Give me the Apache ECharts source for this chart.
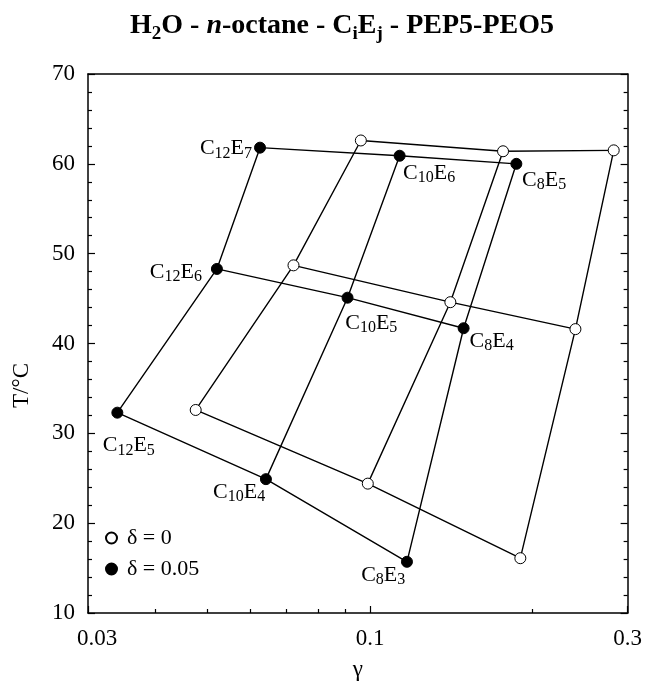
<!DOCTYPE html>
<html>
<head>
<meta charset="utf-8">
<script src="https://cdn.jsdelivr.net/npm/echarts@6/dist/echarts.min.js"></script>
<style>html,body{margin:0;padding:0;background:#fff}#c{width:645px;height:687px}</style>
</head>
<body>
<div id="c"></div>
<script>
// ---- data ----
// filled symbols, delta = 0.05 ; order within each surfactant: highest E to lowest E
const c12Gamma = [0.0625, 0.0520, 0.0340];
const c12T     = [61.8, 48.3, 32.3];
const c12Names = ['C12E7', 'C12E6', 'C12E5'];
const c10Gamma = [0.1134, 0.0908, 0.0641];
const c10T     = [60.9, 45.1, 24.9];
const c10Names = ['C10E6', 'C10E5', 'C10E4'];
const c8Gamma  = [0.1866, 0.1490, 0.1170];
const c8T      = [60.0, 41.7, 15.7];
const c8Names  = ['C8E5', 'C8E4', 'C8E3'];
// open symbols, delta = 0
const o12Gamma = [0.0961, 0.0721, 0.0475];
const o12T     = [62.6, 48.7, 32.6];
const o10Gamma = [0.1763, 0.1408, 0.0990];
const o10T     = [61.4, 44.6, 24.4];
const o8Gamma  = [0.2827, 0.2401, 0.1898];
const o8T      = [61.5, 41.6, 16.1];
// axis ticks
const xMajorTicks = [0.03, 0.1, 0.3];
const xMinorTicks = [0.04, 0.05, 0.06, 0.07, 0.08, 0.09, 0.2];
const legendNames = ['δ = 0', 'δ = 0.05'];

// ---- label placement (style) ----
const labelPlace = {
  C12E7: ['right', -8, 1],  C12E6: ['right', -15, 3], C12E5: ['left', -14.6, 33],
  C10E6: ['left', 3.4, 17.5], C10E5: ['left', -2.3, 25.5], C10E4: ['right', -0.7, 13],
  C8E5: ['left', 5.7, 16], C8E4: ['left', 6, 13], C8E3: ['right', -1.7, 13]
};
const FONT = '"Liberation Serif", "DejaVu Serif", serif';

function pts(g, t) { return g.map((v, i) => [v, t[i]]); }
function richName(n) {
  const m = n.match(/^C(\d+)E(\d+)$/);
  return '{m|C}{s|' + m[1] + '}{m|E}{s|' + m[2] + '}';
}

const filledCols = [[c12Gamma, c12T, c12Names], [c10Gamma, c10T, c10Names], [c8Gamma, c8T, c8Names]];
const openCols = [[o12Gamma, o12T], [o10Gamma, o10T], [o8Gamma, o8T]];

const lineStyle = { color: '#000', width: 1.4, opacity: 1 };
const series = [];
function addLine(data) {
  series.push({ type: 'line', data: data, showSymbol: false, symbol: 'none', lineStyle: lineStyle, z: 2, silent: true, animation: false });
}
// lines for both grids: columns (same surfactant) and rows (same index)
[filledCols, openCols].forEach(cols => {
  cols.forEach(c => addLine(pts(c[0], c[1])));
  for (let j = 0; j < 3; j++) addLine(cols.map(c => [c[0][j], c[1][j]]));
});

const openData = [];
openCols.forEach(c => c[0].forEach((g, i) => openData.push([g, c[1][i]])));
const filledData = [];
filledCols.forEach(c => c[0].forEach((g, i) => {
  const name = c[2][i];
  const p = labelPlace[name];
  filledData.push({
    value: [g, c[1][i]], name: name,
    label: { show: true, position: 'inside', align: p[0], verticalAlign: 'middle', offset: [p[1], p[2]],
             formatter: richName(name) }
  });
}));

const rich = {
  m: { fontFamily: FONT, fontSize: 22, color: '#000', lineHeight: 26, verticalAlign: 'middle' },
  s: { fontFamily: FONT, fontSize: 16, color: '#000', lineHeight: 14, verticalAlign: 'bottom' }
};

series.push({
  name: legendNames[0], type: 'scatter', data: openData, symbol: 'circle', symbolSize: 11,
  itemStyle: { color: '#fff', borderColor: '#000', borderWidth: 1, opacity: 1 }, z: 5, animation: false,
  emphasis: { disabled: true }
});
series.push({
  name: legendNames[1], type: 'scatter', data: filledData, symbol: 'circle', symbolSize: 11,
  itemStyle: { color: '#000', borderColor: '#000', borderWidth: 1, opacity: 1 }, z: 6, animation: false,
  emphasis: { disabled: true },
  label: { rich: rich, color: '#000', opacity: 1 }
});

const axisColor = '#000';
function fmtX(v) {
  const r = parseFloat(Number(v).toPrecision(3));
  if (Math.abs(r - 0.03) < 1e-9) return '{p|0.03}';
  return String(r);
}

const chart = echarts.init(document.getElementById('c'), null, { renderer: 'canvas' });
chart.setOption({
  backgroundColor: '#fff',
  animation: false,
  title: {
    text: '{b|H}{bs|2}{b|O - }{i|n}{b|-octane - C}{bs|i}{b|E}{bs|j}{b| - PEP5-PEO5}',
    left: 125, top: 3,
    textStyle: {
      rich: {
        b: { fontFamily: FONT, fontSize: 28, fontWeight: 'bold', color: '#000', lineHeight: 36, verticalAlign: 'middle' },
        i: { fontFamily: FONT, fontSize: 28, fontWeight: 'bold', fontStyle: 'italic', color: '#000', lineHeight: 36, verticalAlign: 'middle' },
        bs: { fontFamily: FONT, fontSize: 19, fontWeight: 'bold', color: '#000', lineHeight: 18, verticalAlign: 'bottom' }
      }
    }
  },
  legend: {
    data: legendNames, orient: 'vertical', left: 100, top: 522,
    itemWidth: 11, itemHeight: 11, itemGap: 9, icon: 'circle',
    textStyle: { fontFamily: FONT, fontSize: 22, color: '#000', padding: [0, 0, 0, 5] },
    selectedMode: false
  },
  grid: { left: 88, right: 17, top: 74, bottom: 74, containLabel: false },
  xAxis: [
    {
      type: 'log', logBase: 10, min: 0.03, max: 0.3, splitNumber: 1, position: 'bottom',
      name: 'γ', nameLocation: 'middle', nameGap: 45,
      nameTextStyle: { fontFamily: FONT, fontSize: 23, color: '#000' },
      axisLine: { show: true, lineStyle: { color: axisColor, width: 1.5 } },
      axisTick: { show: true, inside: true, length: 7, lineStyle: { color: axisColor, width: 1.2 }, customValues: xMajorTicks },
      axisLabel: { show: true, customValues: xMajorTicks, formatter: fmtX, margin: 14,
                   fontFamily: FONT, fontSize: 23, color: '#000',
                   rich: { p: { fontFamily: FONT, fontSize: 23, color: '#000', padding: [0, 0, 0, 18] } } },
      splitLine: { show: false }
    },
    {
      type: 'log', logBase: 10, min: 0.03, max: 0.3, splitNumber: 1, position: 'bottom',
      axisLine: { show: false },
      axisTick: { show: true, inside: true, length: 4, lineStyle: { color: axisColor, width: 1.2 }, customValues: xMinorTicks },
      axisLabel: { show: false },
      splitLine: { show: false }
    },
    {
      type: 'log', logBase: 10, min: 0.03, max: 0.3, splitNumber: 1, position: 'top',
      axisLine: { show: true, lineStyle: { color: axisColor, width: 1.5 } },
      axisTick: { show: false }, axisLabel: { show: false }, splitLine: { show: false }
    }
  ],
  yAxis: [
    {
      type: 'value', min: 10, max: 70, interval: 10, position: 'left',
      name: 'T/°C', nameLocation: 'middle', nameGap: 55,
      nameTextStyle: { fontFamily: FONT, fontSize: 23, color: '#000', padding: [0, 84, 0, 0] },
      axisLine: { show: true, lineStyle: { color: axisColor, width: 1.5 } },
      axisTick: { show: true, inside: true, length: 7, lineStyle: { color: axisColor, width: 1.2 } },
      minorTick: { show: true, splitNumber: 5, length: 4, lineStyle: { color: axisColor, width: 1.2 } },
      axisLabel: { margin: 13, fontFamily: FONT, fontSize: 23, color: '#000' },
      splitLine: { show: false }
    },
    {
      type: 'value', min: 10, max: 70, interval: 10, position: 'right',
      axisLine: { show: true, lineStyle: { color: axisColor, width: 1.5 } },
      axisTick: { show: true, inside: true, length: 7, lineStyle: { color: axisColor, width: 1.2 } },
      minorTick: { show: true, splitNumber: 5, length: 4, lineStyle: { color: axisColor, width: 1.2 } },
      axisLabel: { show: false },
      splitLine: { show: false }
    }
  ],
  series: series
});
</script>
</body>
</html>
